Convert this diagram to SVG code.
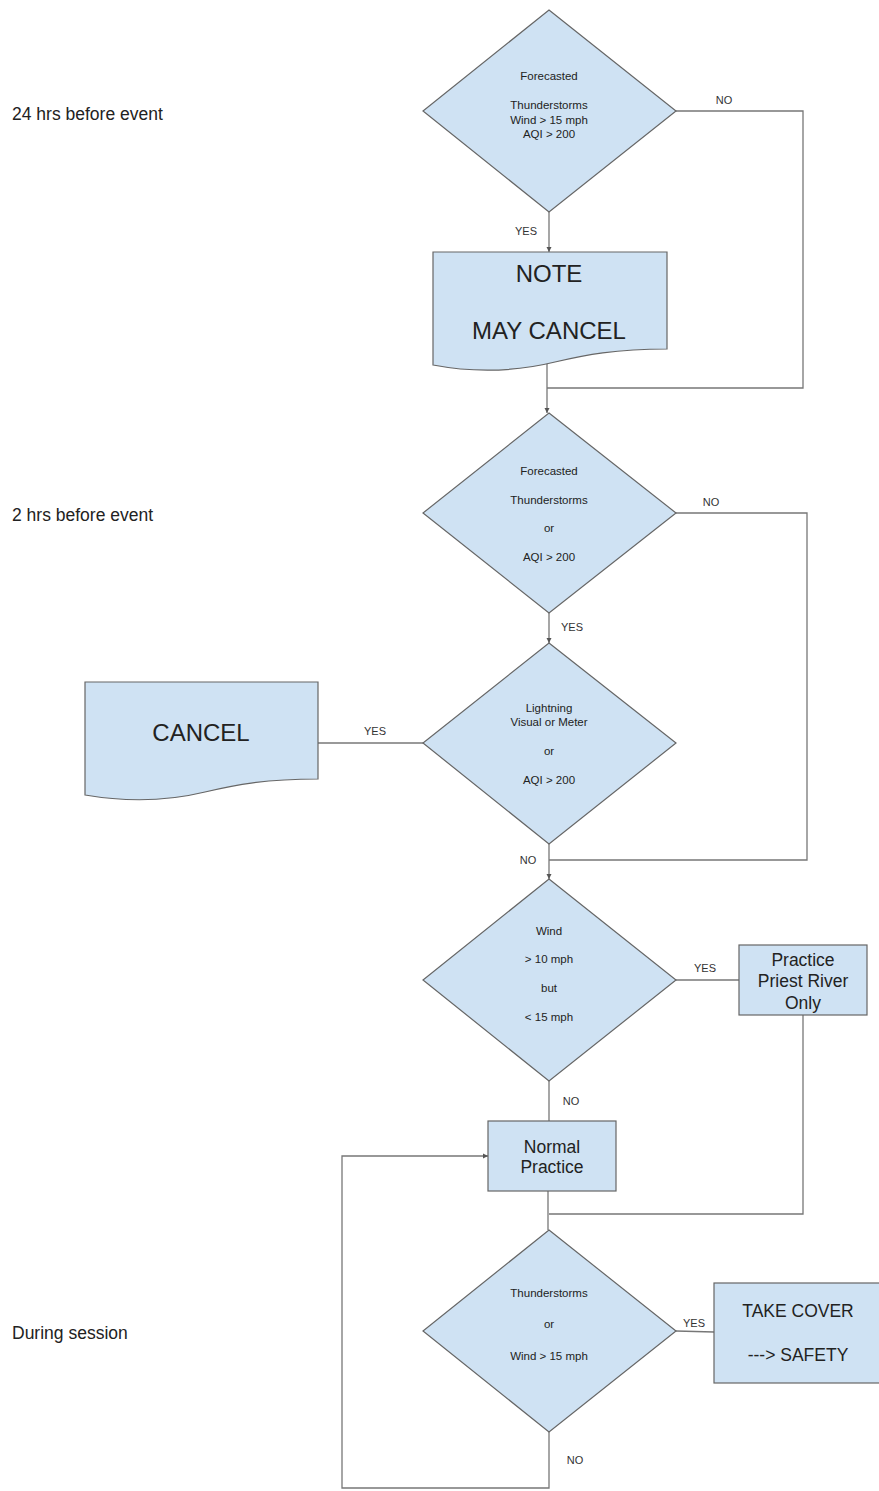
<svg xmlns="http://www.w3.org/2000/svg" width="879" height="1491" viewBox="0 0 879 1491">
<style>
.shape{fill:#cfe2f3;stroke:#666;stroke-width:1.2}
.line{fill:none;stroke:#777;stroke-width:1.3}
.t{font-family:"Liberation Sans",Arial,sans-serif;fill:#222;text-anchor:middle;dominant-baseline:central}
.s{font-size:11.5px}
.m{font-size:17.5px}
.l{font-size:24px}
.lab{font-family:"Liberation Sans",Arial,sans-serif;font-size:11px;fill:#333;text-anchor:middle;dominant-baseline:central}
.side{font-family:"Liberation Sans",Arial,sans-serif;font-size:17.5px;fill:#222;dominant-baseline:central}
</style>
<defs>
<marker id="arr" viewBox="0 0 6 6" refX="6" refY="3" markerWidth="4" markerHeight="4" orient="auto"><path d="M0,0 L6,3 L0,6 Z" fill="#555"/></marker>
</defs>
<rect width="879" height="1491" fill="#fff"/>

<g id="side-labels">
<text class="side" x="12" y="114">24 hrs before event</text>
<text class="side" x="12" y="515">2 hrs before event</text>
<text class="side" x="12" y="1333">During session</text>
</g>

<g id="connectors">
<path class="line" d="M549,212 V252" marker-end="url(#arr)"/>
<path class="line" d="M676,111 H803 V388 H547"/>
<path class="line" d="M547,362 V413" marker-end="url(#arr)"/>
<path class="line" d="M676,513 H807 V860 H549"/>
<path class="line" d="M549,613 V643" marker-end="url(#arr)"/>
<path class="line" d="M423,743 H318"/>
<path class="line" d="M549,844 V879" marker-end="url(#arr)"/>
<path class="line" d="M676,980 H739"/>
<path class="line" d="M549,1081 V1121"/>
<path class="line" d="M803,1015 V1214 H549"/>
<path class="line" d="M548,1191 V1230"/>
<path class="line" d="M676,1331 L714,1332"/>
<path class="line" d="M549,1432 V1488 H342 V1156 H488" marker-end="url(#arr)"/>
<text class="lab" x="724" y="100">NO</text>
<text class="lab" x="526" y="231">YES</text>
<text class="lab" x="711" y="502">NO</text>
<text class="lab" x="572" y="627">YES</text>
<text class="lab" x="375" y="731">YES</text>
<text class="lab" x="528" y="860">NO</text>
<text class="lab" x="705" y="968">YES</text>
<text class="lab" x="571" y="1101">NO</text>
<text class="lab" x="694" y="1323">YES</text>
<text class="lab" x="575" y="1460">NO</text>
</g>

<g id="d1">
<polygon class="shape" points="549,10 676,111 549,212 423,111"/>
<text class="t s" x="549" y="76">Forecasted</text>
<text class="t s" x="549" y="105">Thunderstorms</text>
<text class="t s" x="549" y="120">Wind &gt; 15 mph</text>
<text class="t s" x="549" y="134">AQI &gt; 200</text>
</g>

<g id="note">
<path class="shape" d="M433,252 H667 V349 C615,349 585,355 555,362 C510,373 470,372 433,365 Z"/>
<text class="t l" x="549" y="273">NOTE</text>
<text class="t l" x="549" y="330">MAY CANCEL</text>
</g>

<g id="d2">
<polygon class="shape" points="549,413 676,513 549,613 423,513"/>
<text class="t s" x="549" y="471">Forecasted</text>
<text class="t s" x="549" y="500">Thunderstorms</text>
<text class="t s" x="549" y="528">or</text>
<text class="t s" x="549" y="557">AQI &gt; 200</text>
</g>

<g id="d3">
<polygon class="shape" points="549,643 676,743 549,844 423,743"/>
<text class="t s" x="549" y="708">Lightning</text>
<text class="t s" x="549" y="722">Visual or Meter</text>
<text class="t s" x="549" y="751">or</text>
<text class="t s" x="549" y="780">AQI &gt; 200</text>
</g>

<g id="cancel">
<path class="shape" d="M85,682 H318 V779 C265,779 235,785 205,792 C160,803 120,801 85,795 Z"/>
<text class="t l" x="201" y="732">CANCEL</text>
</g>

<g id="d4">
<polygon class="shape" points="549,879 676,980 549,1081 423,980"/>
<text class="t s" x="549" y="931">Wind</text>
<text class="t s" x="549" y="959">&gt; 10 mph</text>
<text class="t s" x="549" y="988">but</text>
<text class="t s" x="549" y="1017">&lt; 15 mph</text>
</g>

<g id="priest">
<rect class="shape" x="739" y="945" width="128" height="70"/>
<text class="t m" x="803" y="960">Practice</text>
<text class="t m" x="803" y="981">Priest River</text>
<text class="t m" x="803" y="1003">Only</text>
</g>

<g id="normal">
<rect class="shape" x="488" y="1121" width="128" height="70"/>
<text class="t m" x="552" y="1147">Normal</text>
<text class="t m" x="552" y="1167">Practice</text>
</g>

<g id="d5">
<polygon class="shape" points="549,1230 676,1331 549,1432 423,1331"/>
<text class="t s" x="549" y="1293">Thunderstorms</text>
<text class="t s" x="549" y="1324">or</text>
<text class="t s" x="549" y="1356">Wind &gt; 15 mph</text>
</g>

<g id="cover">
<rect class="shape" x="714" y="1283" width="166" height="100"/>
<text class="t m" x="798" y="1311">TAKE COVER</text>
<text class="t m" x="798" y="1355">---&gt; SAFETY</text>
</g>
</svg>
